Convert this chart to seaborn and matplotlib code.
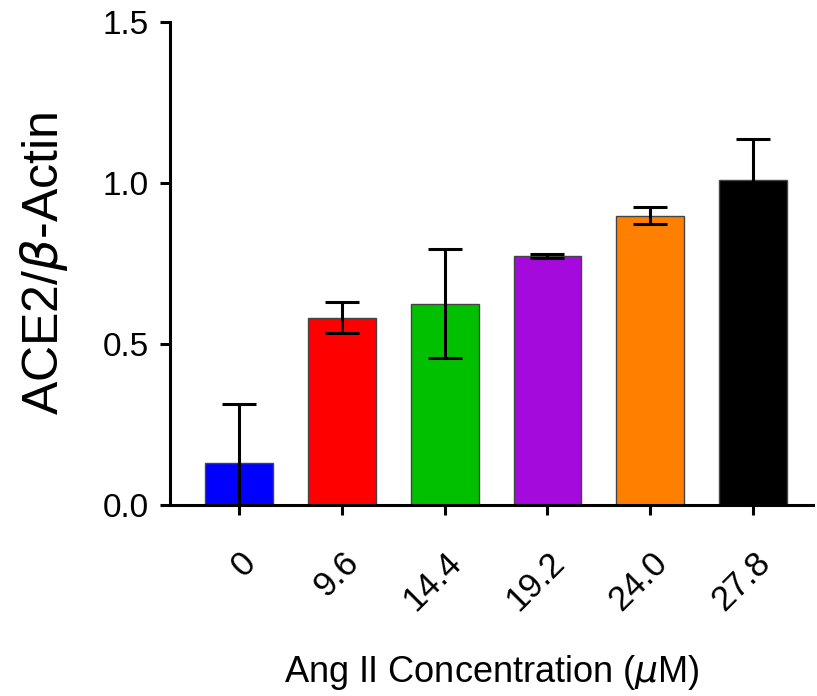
import matplotlib
matplotlib.use("Agg")
import matplotlib.pyplot as plt
import seaborn as sns
import pandas as pd
import numpy as np

categories = ["0", "9.6", "14.4", "19.2", "24.0", "27.8"]
means = [0.130, 0.583, 0.626, 0.773, 0.899, 1.009]
errors = [0.184, 0.047, 0.170, 0.006, 0.026, 0.128]
colors = ["#0000FF", "#FF0000", "#00C000", "#A40ADC", "#FF8000", "#000000"]

sns.set_theme(style="ticks")
plt.rcParams["font.family"] = ["Liberation Sans", "DejaVu Sans"]
plt.rcParams["mathtext.fontset"] = "dejavusans"

df = pd.DataFrame({"conc": categories, "val": means})

fig = plt.figure(figsize=(8.17, 6.96), dpi=100)
ax = fig.add_axes([0.208, 0.274, 0.787, 0.694])

sns.barplot(data=df, x="conc", y="val", hue="conc", palette=colors,
            order=categories, hue_order=categories, legend=False, saturation=1,
            width=0.66, edgecolor="#444444", linewidth=1.0, errorbar=None, ax=ax)

ax.errorbar(np.arange(len(categories)), means, yerr=errors, fmt="none",
            ecolor="black", elinewidth=2.2, capsize=12.2, capthick=2.2, zorder=5)

ax.set_ylim(0, 1.5)
ax.set_xlim(-0.67, 5.58)
ax.set_yticks([0.0, 0.5, 1.0, 1.5])
ax.set_yticklabels(["0.0", "0.5", "1.0", "1.5"])

for side in ["top", "right"]:
    ax.spines[side].set_visible(False)
for side in ["left", "bottom"]:
    ax.spines[side].set_linewidth(2.2)
    ax.spines[side].set_color("black")

ax.tick_params(axis="both", which="major", length=7, width=2.2, color="black",
               labelsize=24, labelcolor="black", pad=8)
ax.tick_params(axis="x", labelsize=25, pad=22)
plt.setp(ax.get_xticklabels(), rotation=45, ha="right", rotation_mode="anchor")

ax.set_xlabel(r"Ang II Concentration ($\mu$M)", fontsize=26, labelpad=26, color="black")
ax.set_ylabel(r"ACE2/$\beta$-Actin", fontsize=36, labelpad=24, color="black")

fig.savefig("out.png", dpi=100)
